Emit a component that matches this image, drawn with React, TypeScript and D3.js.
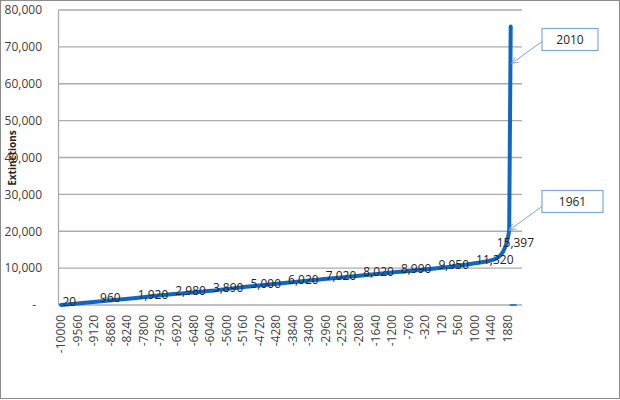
import React from "react";
import * as d3 from "d3";

// Data (cumulative extinctions by year)
const years = [-10000, -9000, -8000, -7000, -6000, -5000, -4000, -3000, -2000, -1000, 0, 1000, 1500, 1700, 1800, 1880, 1961, 2010];
const extinctions = [20, 960, 1920, 2980, 3890, 5000, 6020, 7020, 8020, 8990, 9950, 11320, 12300, 13600, 15397, 18000, 20500, 75500];
const labelledYears = [-10000, -9000, -8000, -7000, -6000, -5000, -4000, -3000, -2000, -1000, 0, 1000, 1800];
const tickYears = [-10000, -9560, -9120, -8680, -8240, -7800, -7360, -6920, -6480, -6040, -5600, -5160, -4720, -4280, -3840, -3400, -2960, -2520, -2080, -1640, -1200, -760, -320, 120, 560, 1000, 1440, 1880];
const lateCategories = [1961, 2010];
const yTicks = [0, 10000, 20000, 30000, 40000, 50000, 60000, 70000, 80000];
const calloutYears = [2010, 1961];
const calloutPointValues = [65500, 20300];
const zeroMarkerYears = [2010];
const zeroMarkerValues = [0];

const W = 620;
const H = 400;
const FONT = "'Open Sans', sans-serif";
const BLUE = "#1067C1";
const CALLOUT = "#7FA8D6";

// categories: every 40 years from -10000 to 1880, then the late years
const catIndex = (yr: number) => {
  const li = lateCategories.indexOf(yr);
  if (li >= 0) return (1880 + 10000) / 40 + 1 + li;
  return (yr + 10000) / 40;
};

export default function App() {
  const lastIdx = catIndex(2010);
  const x = d3.scaleLinear().domain([0, lastIdx]).range([61, 61 + lastIdx * 1.504]);
  const y = d3.scaleLinear().domain([0, 80000]).range([305, 10]);
  const plotLeft = 58.5;
  const plotRight = 522;

  const pts: [number, number][] = years.map((yr, i) => [x(catIndex(yr)), y(extinctions[i])]);
  const line = d3.line<[number, number]>().curve(d3.curveMonotoneX)(pts) || "";

  const fmt = d3.format(",");

  const boxes = [
    { x: 542, y: 28.5, w: 56, h: 22, fromY: 41.5 },
    { x: 542, y: 190.5, w: 61, h: 22, fromY: 206.5 },
  ];

  const arrowHead = (x1: number, y1: number, x2: number, y2: number) => {
    const a = Math.atan2(y2 - y1, x2 - x1);
    const L = 7;
    const s = 0.45;
    const p1 = [x2 - L * Math.cos(a - s), y2 - L * Math.sin(a - s)];
    const p2 = [x2 - L * Math.cos(a + s), y2 - L * Math.sin(a + s)];
    return `M${p1[0]},${p1[1]}L${x2},${y2}L${p2[0]},${p2[1]}`;
  };

  return (
    <svg width={W} height={H} style={{ position: "absolute", left: 0, top: 0, background: "#fff" }} fontFamily={FONT}>
      <rect x={0.5} y={0.5} width={W - 1} height={H - 2} fill="#fff" stroke="#8c8c8c" strokeWidth={1} />

      {/* gridlines */}
      {yTicks.map((t) => (
        <line key={t} x1={plotLeft} x2={plotRight} y1={y(t)} y2={y(t)} stroke="#acacac" strokeWidth={1.3} />
      ))}
      <line x1={plotLeft} x2={plotLeft} y1={y(80000)} y2={y(0)} stroke="#acacac" strokeWidth={1.3} />

      {/* y tick labels */}
      {yTicks.map((t) => (
        <text key={t} x={t === 0 ? 36 : 42} y={y(t)} dy="0.36em" textAnchor="end" fontSize={12} fill="#404040">
          {t === 0 ? "-" : fmt(t)}
        </text>
      ))}

      {/* y axis title */}
      <text transform={`translate(16,158) rotate(-90)`} textAnchor="middle" fontSize={10} fontWeight="bold" fill="#262626">
        Extinctions
      </text>

      {/* x tick labels */}
      {tickYears.map((t) => (
        <text key={t} transform={`translate(${x(catIndex(t))},315) rotate(-90)`} dy="0.35em" textAnchor="end" fontSize={12} fill="#404040">
          {String(t)}
        </text>
      ))}

      {/* series line */}
      <path d={line} fill="none" stroke={BLUE} strokeWidth={4} strokeLinecap="round" strokeLinejoin="round" />

      {/* zero marker */}
      {zeroMarkerYears.map((yr, i) => (
        <line key={yr} x1={x(catIndex(yr)) - 1} x2={x(catIndex(yr)) + 6} y1={y(zeroMarkerValues[i])} y2={y(zeroMarkerValues[i])} stroke={BLUE} strokeWidth={1.5} />
      ))}

      {/* data labels */}
      {labelledYears.map((yr, i) => {
        const k = years.indexOf(yr);
        const px = x(catIndex(yr));
        const py = y(extinctions[k]);
        const last = i === labelledYears.length - 1;
        return (
          <text key={yr} x={last ? px - 8 : px + 1.5} y={last ? py - 1 : py + 1} fontSize={12} fill="#262626">
            {fmt(extinctions[k])}
          </text>
        );
      })}

      {/* callouts */}
      {calloutYears.map((yr, i) => {
        const b = boxes[i];
        const tx = x(catIndex(yr)) + (i === 0 ? 1 : 0);
        const ty = y(calloutPointValues[i]);
        return (
          <g key={yr}>
            <line x1={b.x} y1={b.fromY} x2={tx} y2={ty} stroke={CALLOUT} strokeWidth={1} />
            <path d={arrowHead(b.x, b.fromY, tx, ty)} fill="none" stroke={CALLOUT} strokeWidth={1} />
            <rect x={b.x} y={b.y} width={b.w} height={b.h} fill="#fff" stroke={CALLOUT} strokeWidth={1.2} />
            <text x={b.x + b.w / 2} y={b.y + b.h / 2} dy="0.36em" textAnchor="middle" fontSize={12} fill="#262626">
              {String(yr)}
            </text>
          </g>
        );
      })}
    </svg>
  );
}
